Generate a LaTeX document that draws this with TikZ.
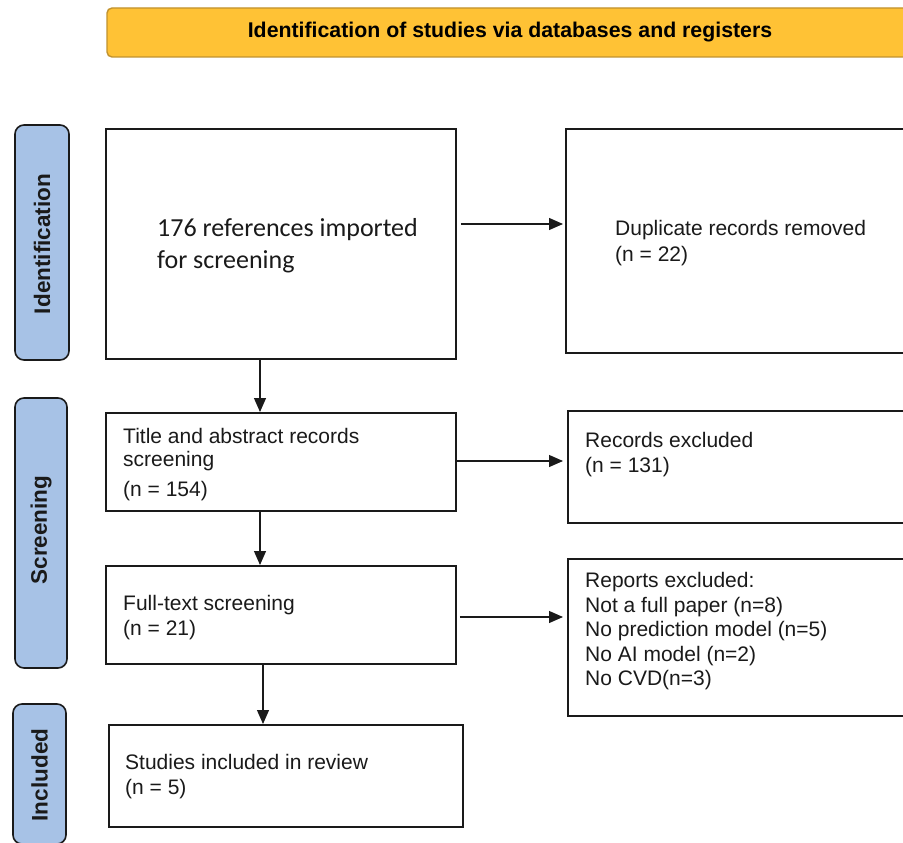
\documentclass[tikz,border=0pt]{standalone}
\usepackage{fontspec}
\setmainfont{Liberation Sans}
\newfontfamily\calib{Carlito}
\usetikzlibrary{arrows.meta}
\definecolor{phaseblue}{HTML}{A7C2E6}
\definecolor{bannerfill}{HTML}{FFC235}
\definecolor{bannerdraw}{HTML}{C1922E}
\definecolor{ink}{HTML}{1A1A1A}
\begin{document}
\begin{tikzpicture}[x=1pt,y=-1pt,
  box/.style={draw=ink, line width=1.8pt, inner sep=0pt, anchor=north west},
  phase/.style={draw=ink, fill=phaseblue, line width=1.6pt, rounded corners=9pt,
    rotate=90, inner sep=0pt},
  phasetxt/.style={rotate=90, inner sep=0pt, font=\fontsize{22.5}{26}\selectfont\bfseries, text=ink},
  txt/.style={anchor=north west, inner sep=0pt, align=left,
    font=\fontsize{21}{25}\selectfont, text=ink},
  arr/.style={draw=ink, line width=1.2pt, -{Triangle[length=14pt,width=12pt]}}]
\useasboundingbox (0,0) rectangle (903,843);
\clip (0,0) rectangle (903,843);
\fill[white] (0,0) rectangle (903,843);

% banner
\node[draw=bannerdraw, fill=bannerfill, line width=1.4pt, rounded corners=5pt,
  minimum width=806, minimum height=49, inner sep=0pt] (banner) at (510,32.5)
  {\fontsize{21.3}{25}\selectfont\bfseries Identification of studies via databases and registers};

% phase labels
\node[phase, minimum width=235, minimum height=54] (pid) at (42,242.5) {};
\node[phasetxt] (lid) at (42,244) {Identification};
\node[phase, minimum width=270, minimum height=52] (pscr) at (41,533) {};
\node[phasetxt] (lscr) at (41,530) {Screening};
\node[phase, minimum width=140, minimum height=53] (pinc) at (39.5,774) {};
\node[phasetxt] (linc) at (39.5,775) {Included};

% main boxes
\node[box, minimum width=350, minimum height=230] (b1) at (105,128) {};
\node[box, minimum width=350, minimum height=224] (dup) at (565,128) {};
\node[box, minimum width=350, minimum height=98] (b2) at (105,412) {};
\node[box, minimum width=350, minimum height=112] (rex) at (567,410) {};
\node[box, minimum width=350, minimum height=98] (b3) at (105,565) {};
\node[box, minimum width=350, minimum height=157] (rep) at (567,558) {};
\node[box, minimum width=354, minimum height=102] (b4) at (108,724) {};

% texts
\node[txt, font=\calib\fontsize{26}{32}\selectfont] (t1) at (157,218.5) {176 references imported\\for screening};
\node[txt, font=\fontsize{21}{26}\selectfont] (tdup) at (615,220) {Duplicate records removed\\(n = 22)};
\node[txt, font=\fontsize{21}{23}\selectfont] (t2) at (123,428.5) {Title and abstract records\\screening\\[7pt](n = 154)};
\node[txt] (trex) at (585,432.5) {Records excluded\\(n = 131)};
\node[txt, font=\fontsize{21}{25.5}\selectfont] (t3) at (123,595) {Full-text screening\\(n = 21)};
\node[txt, font=\fontsize{21}{24.5}\selectfont] (trep) at (585,572.5) {Reports excluded:\\Not a full paper (n=8)\\No prediction model (n=5)\\No AI model (n=2)\\No CVD(n=3)};
\node[txt] (t4) at (125,754.5) {Studies included in review\\(n = 5)};

% arrows
\draw[arr] ([shift={(4,96)}]b1.north east) -- ([shift={(-2,96)}]dup.north west);
\draw[arr] ([xshift=155]b1.south west) -- ([xshift=155]b2.north west);
\draw[arr] ([shift={(0,49)}]b2.north east) -- ([shift={(-4,51)}]rex.north west);
\draw[arr] ([xshift=155]b2.south west) -- ([xshift=155]b3.north west);
\draw[arr] ([shift={(3,52)}]b3.north east) -- ([shift={(-4,59)}]rep.north west);
\draw[arr] ([xshift=158]b3.south west) -- ([xshift=155]b4.north west);
\end{tikzpicture}
\end{document}
